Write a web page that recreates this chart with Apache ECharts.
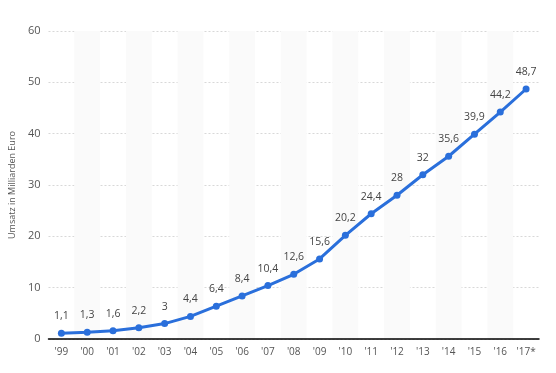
<!DOCTYPE html>
<html><head><meta charset="utf-8">
<script src="https://cdn.jsdelivr.net/npm/echarts@6/dist/echarts.min.js"></script>
<style>html,body{margin:0;padding:0;background:#fff}#c{width:556px;height:373px}</style>
</head><body><div id="c"></div>
<script>
const categories = ["'99","'00","'01","'02","'03","'04","'05","'06","'07","'08","'09","'10","'11","'12","'13","'14","'15","'16","'17*"];
const values = [1.1,1.3,1.6,2.2,3,4.4,6.4,8.4,10.4,12.6,15.6,20.2,24.4,28,32,35.6,39.9,44.2,48.7];
const yAxisName = 'Umsatz in Milliarden Euro';
const chart = echarts.init(document.getElementById('c'), null, {renderer:'canvas'});
chart.setOption({
  animation:false,
  grid:{left:48,right:17,top:31,bottom:34},
  xAxis:{type:'category',data:categories,boundaryGap:true,
    axisLine:{lineStyle:{color:'#000',width:1.5}},
    axisTick:{show:false},
    axisLabel:{color:'#555',fontSize:10,fontFamily:'Open Sans',margin:8},
    splitArea:{show:true,areaStyle:{color:['rgba(255,255,255,0)','#fafafa']}},
    splitLine:{show:false}},
  yAxis:{type:'value',min:0,max:60,interval:10,
    name:yAxisName,nameLocation:'middle',nameGap:22,nameRotate:90,
    nameTextStyle:{color:'#555',fontSize:9,fontFamily:'Open Sans'},
    axisLine:{show:false},axisTick:{show:false},
    axisLabel:{color:'#555',fontSize:11,fontFamily:'Open Sans',margin:8},
    splitLine:{lineStyle:{color:'#d8d8d8',type:[2,2]}}},
  series:[{type:'line',data:values,
    lineStyle:{color:'#2a6fdb',width:3},
    itemStyle:{color:'#2a6fdb'},
    symbol:'circle',symbolSize:7,
    label:{show:true,position:'top',distance:8,color:'#444',fontSize:10.5,fontFamily:'Open Sans',
      formatter:p=>String(p.value).replace('.',',')}}]
});
</script></body></html>
